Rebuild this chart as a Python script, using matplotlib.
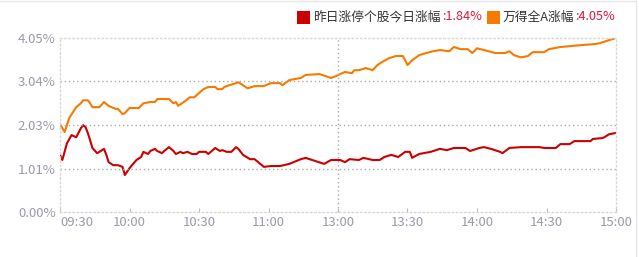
import numpy as np
import matplotlib
matplotlib.use("Agg")
import matplotlib.pyplot as plt
from matplotlib.offsetbox import TextArea, DrawingArea, HPacker, AnchoredOffsetbox
from matplotlib.patches import Rectangle

plt.rcParams['font.family'] = ['Noto Sans CJK SC', 'DejaVu Sans']

# minutos de negociacion desde 09:30 (11:30 y 13:00 comparten el indice 120)
tick_pos = [0, 30, 60, 90, 120, 150, 180, 210, 240]
tick_labels = ["09:30", "10:00", "10:30", "11:00", "13:00", "13:30", "14:00", "14:30", "15:00"]
y_ticks = [0.0, 1.01, 2.03, 3.04, 4.05]

# 万得全A涨幅 (%)
wind_t = [0, 2, 4, 7, 9, 10, 12, 13, 14, 17, 19, 21, 24, 25, 27, 28, 30, 34, 36, 39,
          41, 42, 47, 49, 50, 51, 54, 56, 58, 60, 62, 64, 67, 68, 70, 71, 73, 76, 77, 81,
          84, 88, 91, 95, 96, 99, 104, 106, 112, 117, 119, 123, 126, 127, 129, 132, 135, 137, 139, 142,
          145, 148, 149, 150, 152, 155, 158, 161, 164, 168, 170, 173, 176, 178, 180, 183, 188, 192, 194, 196,
          199, 202, 204, 209, 211, 216, 220, 224, 231, 233, 237, 240]
wind_v = [2.05, 1.86, 2.19, 2.44, 2.53, 2.60, 2.60, 2.53, 2.44, 2.44, 2.56, 2.47, 2.40, 2.40, 2.28, 2.30, 2.42, 2.42, 2.53, 2.56,
          2.56, 2.63, 2.63, 2.53, 2.56, 2.47, 2.58, 2.67, 2.67, 2.77, 2.86, 2.91, 2.91, 2.86, 2.86, 2.91, 2.95, 3.00, 3.02, 2.88,
          2.93, 2.93, 3.00, 3.00, 2.95, 3.07, 3.12, 3.19, 3.21, 3.12, 3.16, 3.26, 3.23, 3.30, 3.30, 3.35, 3.30, 3.42, 3.49, 3.58,
          3.63, 3.63, 3.53, 3.42, 3.53, 3.65, 3.70, 3.74, 3.77, 3.74, 3.84, 3.79, 3.79, 3.70, 3.81, 3.77, 3.70, 3.70, 3.74, 3.65,
          3.60, 3.63, 3.72, 3.72, 3.79, 3.84, 3.86, 3.88, 3.91, 3.93, 4.00, 4.05]

# 昨日涨停个股今日涨幅 (%)
zt_t = [0, 1, 3, 5, 7, 9, 10, 11, 12, 13, 14, 16, 17, 19, 20, 21, 23, 25, 27, 28,
        30, 33, 35, 36, 38, 39, 41, 42, 44, 45, 47, 49, 50, 52, 53, 55, 57, 59, 60, 63,
        64, 67, 69, 70, 72, 74, 76, 77, 79, 82, 84, 86, 88, 91, 95, 99, 104, 106, 110, 114,
        117, 121, 123, 125, 129, 131, 135, 138, 140, 143, 146, 149, 151, 152, 155, 160, 164, 167, 170, 175,
        177, 181, 183, 186, 190, 191, 194, 199, 207, 209, 214, 216, 220, 222, 229, 230, 234, 235, 237, 240]
zt_v = [1.33, 1.21, 1.60, 1.79, 1.74, 1.95, 2.02, 1.98, 1.84, 1.67, 1.49, 1.37, 1.40, 1.47, 1.33, 1.16, 1.09, 1.09, 1.05, 0.86,
        1.02, 1.21, 1.28, 1.40, 1.35, 1.42, 1.47, 1.42, 1.37, 1.42, 1.51, 1.42, 1.35, 1.40, 1.37, 1.40, 1.35, 1.35, 1.40, 1.40,
        1.35, 1.49, 1.42, 1.44, 1.40, 1.40, 1.51, 1.47, 1.33, 1.23, 1.23, 1.14, 1.05, 1.07, 1.07, 1.12, 1.23, 1.26, 1.19, 1.12,
        1.21, 1.21, 1.16, 1.23, 1.21, 1.26, 1.21, 1.21, 1.28, 1.33, 1.28, 1.40, 1.40, 1.26, 1.35, 1.40, 1.47, 1.44, 1.49, 1.49,
        1.42, 1.49, 1.51, 1.47, 1.40, 1.37, 1.49, 1.51, 1.51, 1.49, 1.49, 1.58, 1.58, 1.65, 1.65, 1.70, 1.72, 1.74, 1.81, 1.84]

red = "#cc0000"
orange = "#f77a00"
gris = "#9a9aa8"

fig = plt.figure(figsize=(6.39, 2.57), dpi=100)
ax = fig.add_axes([60/639, 45/257, 556/639, 174/257])

ax.plot(zt_t, zt_v, color=red, lw=1.5)
ax.plot(wind_t, wind_v, color=orange, lw=1.5)

ax.set_xlim(0, 240)
ax.set_ylim(0, 4.05)
ax.set_yticks(y_ticks)
ax.set_yticklabels(["%.2f%%" % v for v in y_ticks])
ax.set_xticks(tick_pos)
ax.set_xticklabels(tick_labels)
ax.get_xticklabels()[0].set_horizontalalignment("left")

for v in y_ticks[1:-1]:
    ax.axhline(v, color="#aaaaaa", lw=1, ls=(0, (1, 2)))
ax.axvline(120, color="#aaaaaa", lw=1, ls=(0, (1, 2)))

for s in ax.spines.values():
    s.set_color("#d8d8d8")
    s.set_linestyle((0, (1, 2)))
    s.set_linewidth(1)

ax.tick_params(axis="x", direction="in", length=3, color="#bbbbbb", labelcolor=gris, labelsize=9.5, pad=3)
ax.tick_params(axis="y", length=0, labelcolor=gris, labelsize=9.5, pad=3)

# leyenda con valores en color
def cuadro(color, hueco=0):
    d = DrawingArea(10 + hueco, 10, 0, 0)
    d.add_artist(Rectangle((hueco, 0), 9, 9, fc=color, ec="none"))
    return d

fp = dict(fontsize=9.2)
partes = [cuadro(red),
          TextArea("昨日涨停个股今日涨幅", textprops=dict(color="#333333", **fp)),
          TextArea(":1.84%", textprops=dict(color="#e0183c", **fp)),
          cuadro(orange, 3),
          TextArea("万得全A涨幅", textprops=dict(color="#333333", **fp)),
          TextArea(":4.05%", textprops=dict(color="#e0183c", **fp))]
caja = HPacker(children=partes, align="center", pad=0, sep=1)
ab = AnchoredOffsetbox(loc="upper right", child=caja, frameon=False, pad=0, borderpad=0,
                       bbox_to_anchor=(615/639, 1 - 10/257), bbox_transform=fig.transFigure)
fig.add_artist(ab)

# borde exterior gris claro
fig.add_artist(plt.Line2D([0, 636/639], [1 - 0.5/257, 1 - 0.5/257], color="#e6e6e6", lw=1))
fig.add_artist(plt.Line2D([636/639, 636/639], [0, 1], color="#e6e6e6", lw=1))

fig.savefig("out.png", dpi=100)
